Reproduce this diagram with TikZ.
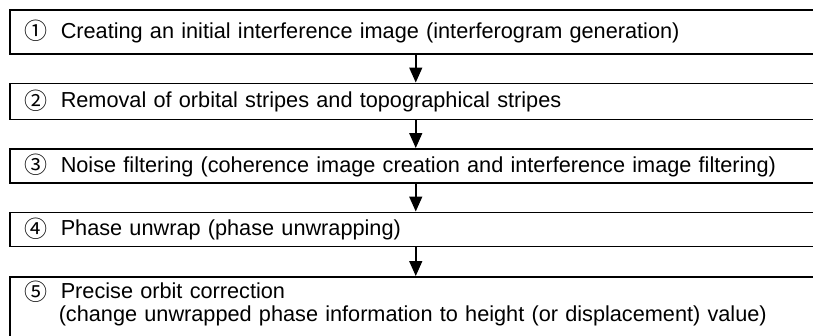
\documentclass[tikz,border=0pt]{standalone}
\usepackage{fontspec}
\setmainfont{Liberation Sans}
\newfontfamily\circfont{Noto Sans CJK JP}
\usetikzlibrary{arrows.meta,positioning}
\newcommand{\stepno}[1]{\makebox[35pt][l]{\hspace*{-1pt}\raisebox{-1.5pt}{\circfont\fontsize{23}{23}\selectfont #1}}}

\begin{document}
\begin{tikzpicture}[
  x=1pt,y=-1pt,
  stepbox/.style={draw=black,line width=1.5pt,text width=780pt,inner xsep=16pt,inner ysep=0pt,align=left,font=\fontsize{21.7}{23}\selectfont},
  edge/.style={-{Triangle[length=15pt,width=13pt]},line width=1.5pt}
]
\useasboundingbox (0,0) rectangle (813,335);
\clip (0,0) rectangle (813,335);

% Steps.
\node[stepbox,anchor=north west,minimum height=44pt] (s1) at (9,9) {\stepno{①}Creating an initial interference image (interferogram generation)};
\node[stepbox,minimum height=36pt,below=28pt of s1] (s2) {\stepno{②}Removal of orbital stripes and topographical stripes};
\node[stepbox,minimum height=34pt,below=28pt of s2] (s3) {\stepno{③}Noise filtering (coherence image creation and interference image filtering)};
\node[stepbox,minimum height=34pt,below=28pt of s3] (s4) {\stepno{④}Phase unwrap (phase unwrapping)};
\node[stepbox,inner ysep=4pt,text depth=60pt,below=29pt of s4] (s5) {\stepno{⑤}Precise orbit correction\\\hspace*{33pt}(change unwrapped phase information to height (or displacement) value)};

% Arrows.
\draw[edge] (s1) -- (s2);
\draw[edge] (s2) -- (s3);
\draw[edge] (s3) -- (s4);
\draw[edge] (s4) -- (s5);
\end{tikzpicture}
\end{document}
